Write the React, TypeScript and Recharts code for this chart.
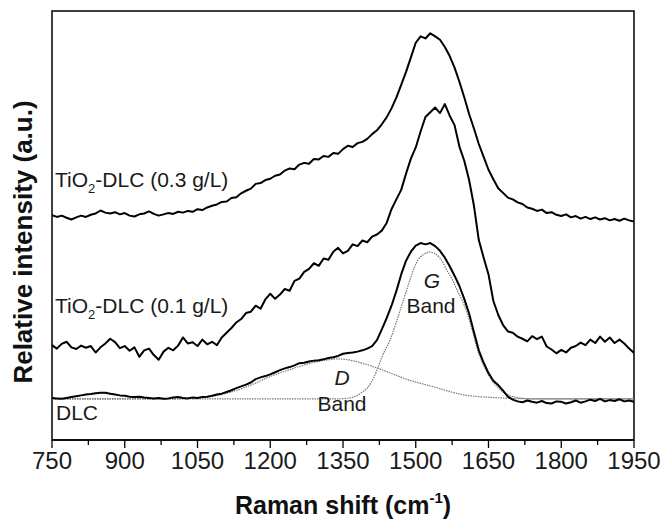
import React from 'react';
import { LineChart, Line, XAxis, YAxis, ReferenceArea } from 'recharts';

// Raman shift grid (cm-1) for the measured spectra
const ramanShift = [
  750, 760, 770, 780, 790, 800, 810, 820, 830, 840,
  850, 860, 870, 880, 890, 900, 910, 920, 930, 940,
  950, 960, 970, 980, 990, 1000, 1010, 1020, 1030, 1040,
  1050, 1060, 1070, 1080, 1090, 1100, 1110, 1120, 1130, 1140,
  1150, 1160, 1170, 1180, 1190, 1200, 1210, 1220, 1230, 1240,
  1250, 1260, 1270, 1280, 1290, 1300, 1310, 1320, 1330, 1340,
  1350, 1360, 1370, 1380, 1390, 1400, 1410, 1420, 1430, 1440,
  1450, 1460, 1470, 1480, 1490, 1500, 1510, 1520, 1530, 1540,
  1550, 1560, 1570, 1580, 1590, 1600, 1610, 1620, 1630, 1640,
  1650, 1660, 1670, 1680, 1690, 1700, 1710, 1720, 1730, 1740,
  1750, 1760, 1770, 1780, 1790, 1800, 1810, 1820, 1830, 1840,
  1850, 1860, 1870, 1880, 1890, 1900, 1910, 1920, 1930, 1940,
  1950,
];

// TiO2-DLC (0.3 g/L), offset spectrum
const tio2High = [
  52.4, 52.0, 52.3, 51.8, 51.4, 51.9, 52.3, 52.0, 52.5, 52.8,
  53.5, 53.0, 52.8, 53.1, 52.6, 52.9, 52.3, 52.1, 52.6, 52.8,
  53.3, 52.7, 52.3, 52.6, 52.9, 52.7, 53.2, 53.0, 53.4, 53.2,
  53.8, 53.6, 54.2, 54.6, 54.9, 55.5, 55.6, 56.4, 56.6, 57.5,
  58.1, 58.6, 59.7, 59.9, 60.6, 60.9, 61.6, 61.9, 62.8, 63.3,
  63.1, 64.2, 64.6, 64.4, 65.5, 65.4, 66.2, 66.0, 66.9, 66.7,
  67.8, 68.6, 68.3, 69.2, 69.5, 70.2, 71.3, 72.2, 73.6, 75.2,
  77.3, 79.8, 82.8, 85.8, 89.2, 92.6, 94.1, 93.6, 94.8, 94.1,
  93.3, 91.6, 89.5, 86.8, 83.5, 79.9, 76.0, 72.6, 69.0, 66.0,
  63.0, 60.8, 58.7, 57.6, 56.5, 56.1, 55.4, 55.0, 54.2, 53.9,
  53.4, 53.7, 52.9, 53.1, 52.5, 52.2, 52.6, 51.9, 52.2, 51.6,
  52.0, 51.5, 51.9, 51.4, 51.7, 51.2, 51.5, 51.1, 51.6, 51.2,
  50.9,
];

// TiO2-DLC (0.1 g/L), offset spectrum
const tio2Low = [
  22.1, 21.3, 22.4, 22.9, 21.6, 21.2, 22.0, 21.5, 21.9, 20.4,
  21.6, 22.5, 23.6, 22.8, 21.4, 21.9, 20.8, 21.6, 19.4, 20.9,
  21.3, 19.8, 18.7, 20.6, 21.5, 20.9, 22.0, 23.9, 22.5, 22.8,
  21.9, 23.4, 22.3, 22.9, 22.1, 23.9, 25.0, 26.1, 27.4, 28.2,
  29.6, 29.9, 31.3, 30.6, 32.8, 34.1, 32.9, 33.9, 35.2, 34.8,
  37.1, 37.6, 39.2, 39.9, 41.2, 40.6, 42.3, 42.0, 43.9, 44.8,
  43.5, 44.1, 45.6, 45.2, 46.5, 46.1, 47.4, 47.9, 48.8, 50.6,
  53.8, 56.1, 58.3, 62.1, 65.6, 68.2, 71.9, 75.3, 76.4, 77.5,
  76.2, 78.3, 75.6, 73.4, 68.4, 65.1, 60.6, 54.6, 46.6, 42.5,
  38.6, 32.4, 29.2, 26.8, 25.3, 25.0, 24.1, 23.6, 23.0, 24.2,
  23.5, 24.1, 21.8, 21.1, 20.2, 21.0, 20.4, 21.5, 21.9, 22.7,
  22.1, 23.4, 22.6, 24.1, 22.9, 23.9, 22.6, 23.4, 22.5, 21.3,
  20.3,
];

// DLC spectrum
const dlc = [
  9.8, 9.7, 9.6, 9.8, 10.0, 10.2, 10.4, 10.6, 10.7, 10.9,
  11.0, 11.0, 10.8, 10.6, 10.4, 10.3, 10.1, 10.0, 10.1, 9.9,
  9.8, 9.7, 9.8, 9.6, 9.7, 9.9, 10.0, 9.8, 9.7, 9.9,
  9.8, 10.0, 10.1, 10.3, 10.6, 10.8, 11.2, 11.6, 12.1, 12.5,
  12.9, 13.4, 14.2, 14.6, 14.9, 15.3, 15.8, 16.3, 16.7, 17.0,
  17.4, 17.9, 18.0, 18.3, 18.5, 18.6, 18.8, 19.1, 19.3, 19.6,
  20.1, 20.3, 20.4, 20.6, 20.9, 21.3, 21.9, 23.3, 25.8, 28.4,
  31.3, 34.7, 38.6, 41.8, 43.9, 45.3, 45.9, 45.6, 45.9, 45.2,
  44.1, 42.5, 40.5, 38.3, 35.9, 32.9, 29.5, 25.1, 20.9, 18.0,
  15.6, 13.8, 12.8, 11.5, 10.1, 9.4, 9.0, 8.8, 9.2, 8.9,
  8.7, 9.1, 8.6, 8.5, 9.0, 8.9, 8.5, 8.8, 9.2, 8.7,
  9.0, 9.4, 9.1, 9.6, 9.0, 9.3, 9.1, 9.5, 9.0, 9.2,
  8.9,
];

// Fitted D band
const dBandShift = [750, 1000, 1040, 1080, 1120, 1160, 1200, 1240, 1280, 1320, 1340, 1360, 1390, 1420, 1450, 1480, 1510, 1540, 1570, 1600, 1630, 1660, 1700, 1740, 1950];
const dBand = [9.6, 9.6, 9.8, 10.2, 11.2, 12.8, 14.8, 16.4, 17.8, 18.7, 18.9, 18.7, 17.9, 16.8, 15.5, 14.2, 13.2, 12.3, 11.3, 10.5, 10.1, 9.9, 9.7, 9.6, 9.6];

// Fitted G band
const gBandShift = [750, 1340, 1371, 1390, 1400, 1410, 1420, 1432, 1447, 1458, 1468, 1478, 1488, 1497, 1505, 1517, 1529, 1544, 1555, 1564, 1575, 1585, 1596, 1606, 1616, 1626, 1636, 1647, 1657, 1668, 1684, 1705, 1736, 1950];
const gBand = [9.6, 9.6, 10.0, 11.2, 12.1, 13.8, 16.3, 19.8, 23.3, 26.8, 30.3, 33.8, 37.3, 40.2, 42.0, 43.3, 43.8, 43.1, 41.6, 39.6, 37.5, 35.0, 32.5, 29.6, 25.8, 21.5, 18.4, 15.8, 13.9, 12.4, 10.9, 10.0, 9.6, 9.6];

const majorTicks = [750, 900, 1050, 1200, 1350, 1500, 1650, 1800, 1950];
const minorTicks = [825, 975, 1125, 1275, 1425, 1575, 1725, 1875];
const allTicks = [...majorTicks, ...minorTicks].sort((a, b) => a - b);

const toRows = (xs: number[], ys: number[]) => xs.map((x, i) => ({ x, y: ys[i] }));
const highRows = toRows(ramanShift, tio2High);
const lowRows = toRows(ramanShift, tio2Low);
const dlcRows = toRows(ramanShift, dlc);
const dRows = toRows(dBandShift, dBand);
const gRows = toRows(gBandShift, gBand);

const FONT = '"Liberation Sans", Arial, Helvetica, sans-serif';

const XTick = (props: any) => {
  const { x, y, payload } = props;
  const isMajor = majorTicks.includes(payload.value);
  return (
    <g>
      <line x1={x} x2={x} y1={y} y2={y + (isMajor ? 8 : 5)} stroke="#000" strokeWidth={1.3} />
      {isMajor && (
        <text x={x} y={y + 29} textAnchor="middle" fontFamily={FONT} fontSize={24} fill="#1a1a1a">
          {payload.value}
        </text>
      )}
    </g>
  );
};

export default function App() {
  return (
    <div style={{ position: 'fixed', left: 0, top: 0, width: 666, height: 520, background: '#fff' }}>
      <LineChart width={666} height={520} margin={{ top: 11, right: 32, bottom: 50, left: 52 }}>
        <XAxis
          type="number"
          dataKey="x"
          domain={[750, 1950]}
          ticks={allTicks}
          interval={0}
          tickLine={false}
          tickSize={0}
          tickMargin={0}
          tick={<XTick />}
          axisLine={{ stroke: '#000', strokeWidth: 1.5 }}
          height={30}
          allowDataOverflow
        />
        <YAxis type="number" domain={[0, 100]} hide allowDataOverflow />
        <ReferenceArea x1={750} x2={1950} y1={0} y2={100} fill="none" stroke="#000" strokeWidth={1.5} />
        <Line data={dRows} dataKey="y" type="monotone" stroke="#777" strokeWidth={1.2} strokeDasharray="1.5 1" dot={false} isAnimationActive={false} />
        <Line data={gRows} dataKey="y" type="monotone" stroke="#777" strokeWidth={1.2} strokeDasharray="1.5 1" dot={false} isAnimationActive={false} />
        <Line data={dlcRows} dataKey="y" type="linear" stroke="#000" strokeWidth={2} strokeLinejoin="round" dot={false} isAnimationActive={false} />
        <Line data={lowRows} dataKey="y" type="linear" stroke="#000" strokeWidth={2} strokeLinejoin="round" dot={false} isAnimationActive={false} />
        <Line data={highRows} dataKey="y" type="linear" stroke="#000" strokeWidth={2} strokeLinejoin="round" dot={false} isAnimationActive={false} />
      </LineChart>
      <svg width={666} height={520} style={{ position: 'absolute', left: 0, top: 0, pointerEvents: 'none' }} fontFamily={FONT}>
        <text x={55} y={187} fontSize={21} fill="#1a1a1a">
          <tspan>TiO</tspan>
          <tspan fontSize={13} dy={6}>2</tspan>
          <tspan dy={-6}>-DLC (0.3 g/L)</tspan>
        </text>
        <text x={55} y={313} fontSize={21} fill="#1a1a1a">
          <tspan>TiO</tspan>
          <tspan fontSize={13} dy={6}>2</tspan>
          <tspan dy={-6}>-DLC (0.1 g/L)</tspan>
        </text>
        <text x={56} y={420} fontSize={21} fill="#1a1a1a">DLC</text>
        <text x={432} y={288} fontSize={21} fontStyle="italic" textAnchor="middle" fill="#1a1a1a">G</text>
        <text x={431} y={313} fontSize={21} textAnchor="middle" fill="#1a1a1a">Band</text>
        <text x={342} y={385} fontSize={21} fontStyle="italic" textAnchor="middle" fill="#1a1a1a">D</text>
        <text x={342} y={411} fontSize={21} textAnchor="middle" fill="#1a1a1a">Band</text>
        <text x={343} y={514} fontSize={25} fontWeight="bold" textAnchor="middle" fill="#111">
          <tspan>Raman shift (cm</tspan>
          <tspan fontSize={15} dy={-11}>-1</tspan>
          <tspan dy={11}>)</tspan>
        </text>
        <text x={0} y={0} fontSize={26} fontWeight="bold" textAnchor="middle" fill="#111" transform="translate(32,242) rotate(-90)">
          Relative intensity (a.u.)
        </text>
      </svg>
    </div>
  );
}
